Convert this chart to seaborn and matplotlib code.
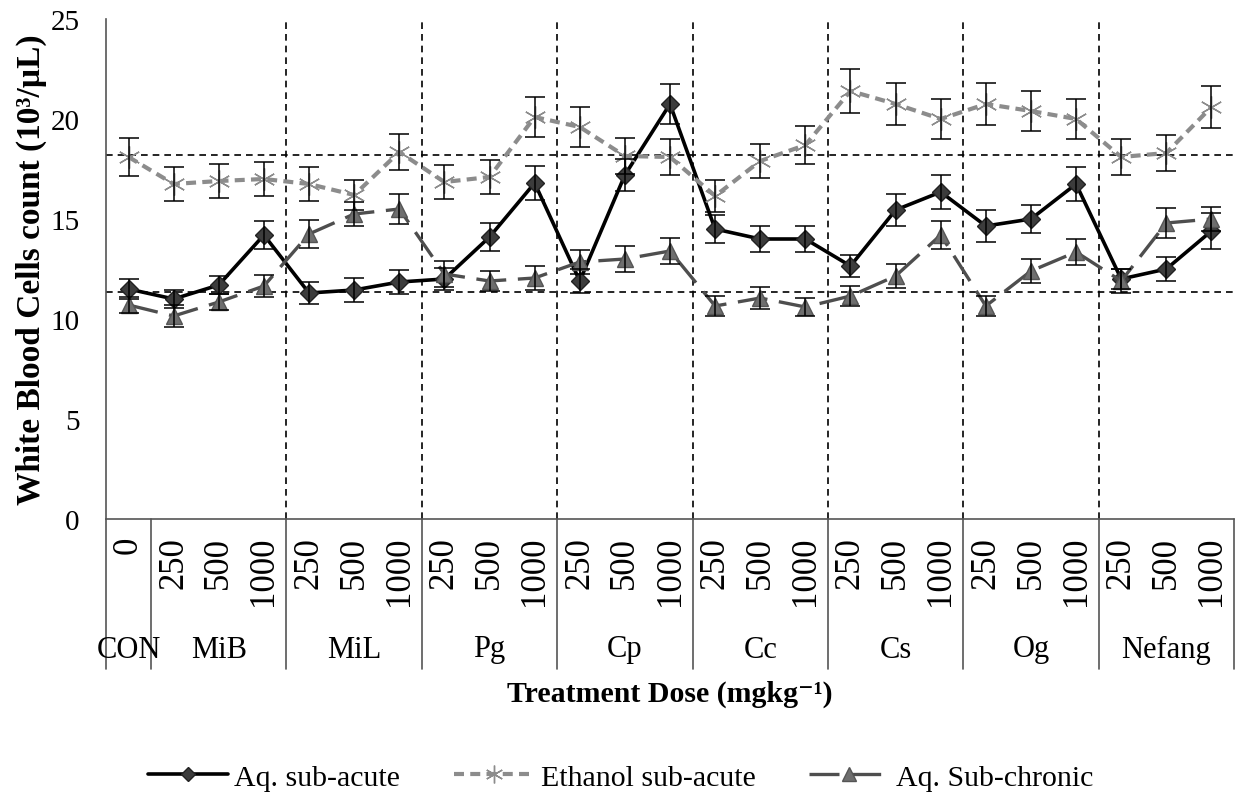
import numpy as np
import pandas as pd
import matplotlib
matplotlib.use("Agg")
import matplotlib.pyplot as plt
import seaborn as sns
from matplotlib.lines import Line2D
import matplotlib.transforms as mtransforms

# ---- data -------------------------------------------------------------
groups = ["CON", "MiB", "MiL", "Pg", "Cp", "Cc", "Cs", "Og", "Nefang"]
group_sizes = [1, 3, 3, 3, 3, 3, 3, 3, 3]
doses = ["0"] + ["250", "500", "1000"] * 8

aq_subacute = [11.5, 11.0, 11.7, 14.2, 11.3, 11.45, 11.85, 12.0, 14.1, 16.8,
               11.9, 17.2, 20.75, 14.5, 14.0, 14.0, 12.65, 15.45, 16.35,
               14.65, 15.0, 16.75, 12.0, 12.5, 14.4]
aq_subacute_err = [0.5, 0.45, 0.45, 0.7, 0.55, 0.6, 0.58, 0.55, 0.72, 0.85,
                   0.6, 0.8, 1.0, 0.7, 0.67, 0.67, 0.55, 0.8, 0.85, 0.78,
                   0.7, 0.83, 0.5, 0.62, 0.9]

ethanol_subacute = [18.1, 16.75, 16.9, 17.0, 16.75, 16.2, 18.35, 16.85, 17.1,
                    20.1, 19.6, 18.15, 18.1, 16.15, 17.9, 18.7, 21.4, 20.75,
                    20.0, 20.75, 20.4, 20.0, 18.1, 18.3, 20.6]
ethanol_subacute_err = [0.93, 0.83, 0.85, 0.85, 0.83, 0.75, 0.92, 0.85, 0.83,
                        0.98, 1.0, 0.88, 0.88, 0.8, 0.87, 0.95, 1.08, 1.04,
                        1.0, 1.04, 1.0, 1.0, 0.92, 0.92, 1.03]

aq_subchronic = [10.7, 10.15, 10.85, 11.65, 14.25, 15.25, 15.5, 12.25, 11.9,
                 12.05, 12.85, 13.0, 13.4, 10.65, 11.05, 10.6, 11.15, 12.15,
                 14.2, 10.65, 12.4, 13.35, 11.9, 14.8, 15.0]
aq_subchronic_err = [0.4, 0.55, 0.4, 0.55, 0.7, 0.62, 0.77, 0.64, 0.52, 0.58,
                     0.6, 0.63, 0.67, 0.5, 0.57, 0.45, 0.52, 0.58, 0.7, 0.5,
                     0.58, 0.67, 0.58, 0.75, 0.6]

series_names = ["Aq. sub-acute", "Ethanol sub-acute", "Aq. Sub-chronic"]
reference_levels = [18.2, 11.35]

# ---- style ------------------------------------------------------------
sns.set_theme(style="white")
plt.rcParams["font.family"] = ["Liberation Serif", "DejaVu Serif"]
plt.rcParams.update({"text.color": "black", "axes.labelcolor": "black",
                     "xtick.color": "black", "ytick.color": "black"})

pos = np.arange(len(doses))

df = pd.DataFrame({
    "pos": np.tile(pos, 3),
    "value": aq_subacute + ethanol_subacute + aq_subchronic,
    "err": aq_subacute_err + ethanol_subacute_err + aq_subchronic_err,
    "series": np.repeat(series_names, len(pos)),
})

styles = {
    "Aq. sub-acute": dict(color="#000000", marker="D", ms=9, mfc="#3c3c3c",
                          mec="#222222", lw=2.6, dashes=None),
    "Ethanol sub-acute": dict(color="#8c8c8c", marker=(6, 2, 0), ms=16,
                              mfc="#8c8c8c", mec="#8c8c8c", lw=3.0,
                              dashes=(2.4, 1.5)),
    "Aq. Sub-chronic": dict(color="#4e4e4e", marker="^", ms=12, mfc="#6e6e6e",
                            mec="#555555", lw=2.4, dashes=(9, 3.5)),
}

fig = plt.figure(figsize=(12.36, 8.03), dpi=100)
ax = fig.add_axes([106 / 1236, 1 - 520 / 803, 1128 / 1236, 500 / 803])

# reference lines
for lvl in reference_levels:
    ax.axhline(lvl, color="black", lw=1.2, ls=(0, (4, 3)), zorder=1)
boundaries = np.cumsum(group_sizes) - 0.5
for b in boundaries[1:-1]:
    ax.axvline(b, color="black", lw=1.2, ls=(0, (4, 3)), zorder=1)

handles = []
for name in series_names:
    st = styles[name]
    sub = df[df["series"] == name]
    n_before = len(ax.lines)
    sns.lineplot(data=sub, x="pos", y="value", ax=ax, sort=False,
                 errorbar=None, color=st["color"], lw=st["lw"],
                 marker=st["marker"], markersize=st["ms"],
                 markerfacecolor=st["mfc"], markeredgecolor=st["mec"],
                 markeredgewidth=1.0, legend=False, zorder=3)
    line = ax.lines[n_before]
    if st["dashes"] is not None:
        line.set_dashes(st["dashes"])
    ax.errorbar(sub["pos"], sub["value"], yerr=sub["err"], fmt="none",
                ecolor="black", elinewidth=1.1, capsize=7, capthick=1.1,
                zorder=4)
    h = Line2D([], [], color=st["color"], lw=st["lw"], marker=st["marker"],
               markersize=st["ms"] * 0.8, markerfacecolor=st["mfc"],
               markeredgecolor=st["mec"])
    if st["dashes"] is not None:
        h.set_dashes(st["dashes"])
    handles.append(h)

ax.set_xlim(-0.5, len(pos) - 0.5)
ax.set_ylim(0, 25)
ax.set_yticks(np.arange(0, 26, 5))
ax.tick_params(axis="y", which="major", direction="out", length=8, width=1,
               color="#555555", labelsize=21, pad=11)
ax.set_xticks(pos)
ax.set_xticklabels(doses, rotation=90, fontsize=25)
ax.tick_params(axis="x", length=0, pad=12)
for lab in ax.get_xticklabels():
    lab.set_va("top")

for side in ["top", "right"]:
    ax.spines[side].set_visible(False)
for side in ["left", "bottom"]:
    ax.spines[side].set_color("#555555")
    ax.spines[side].set_linewidth(1.2)

# group dividers and group names under the axis
trans = mtransforms.blended_transform_factory(ax.transData, ax.transAxes)
for b in np.concatenate([[-0.5], boundaries]):
    ax.plot([b, b], [0, -0.30], transform=trans, color="#555555", lw=1.2,
            clip_on=False)
starts = np.concatenate([[0], np.cumsum(group_sizes)[:-1]])
for g, s, n in zip(groups, starts, group_sizes):
    ax.text(s + (n - 1) / 2, -0.26, g, transform=trans, ha="center",
            va="center", fontsize=22)

ax.set_ylabel("White Blood Cells count (10³/µL)", fontsize=24,
              fontweight="bold")
ax.yaxis.set_label_coords(-0.052, 0.5)
ax.set_xlabel("Treatment Dose (mgkg⁻¹)", fontsize=21.5, fontweight="bold")
ax.xaxis.set_label_coords(0.5, -0.322)

fig.legend(handles, series_names, loc="center", bbox_to_anchor=(0.502, 0.031),
           ncol=3, frameon=False, fontsize=21.5, handlelength=2.7,
           columnspacing=1.8, handletextpad=0.2)

fig.savefig("out.png", dpi=100)
